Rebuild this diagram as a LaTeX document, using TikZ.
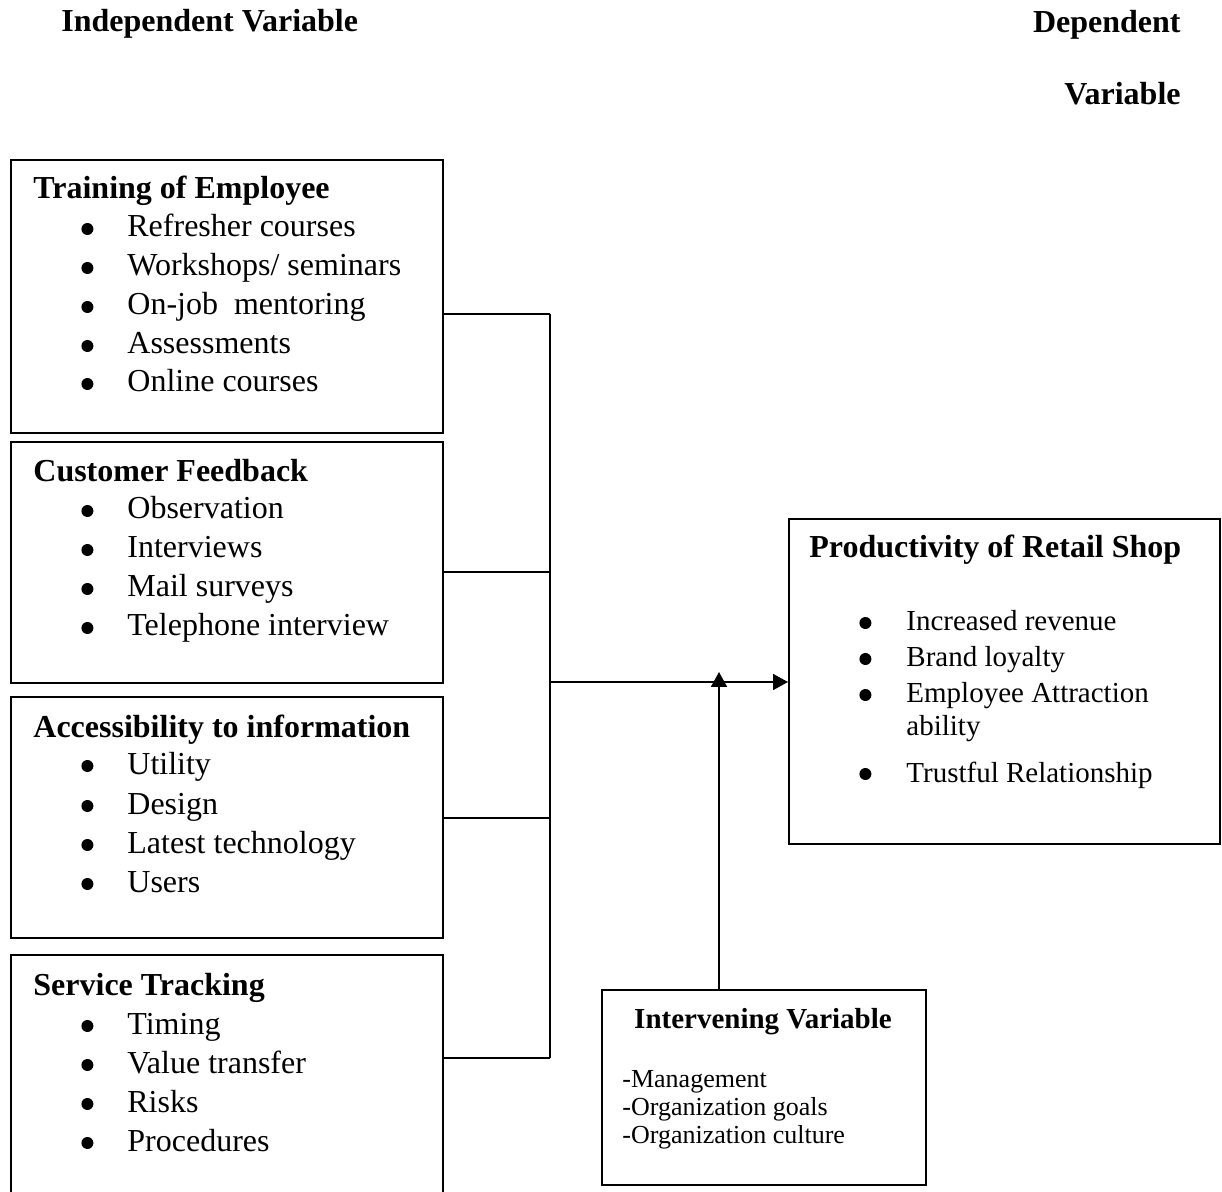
\documentclass[tikz,border=0pt]{standalone}
\usepackage{fontspec}
\setmainfont{Liberation Serif}
\usetikzlibrary{arrows.meta}
\tikzset{
  box/.style={draw, line width=1pt, inner sep=0pt, anchor=north west},
  ttl/.style={inner sep=0pt, anchor=base west, font=\fontsize{16}{19}\selectfont\bfseries},
  itl/.style={inner sep=0pt, anchor=base west, font=\fontsize{16}{19}\selectfont},
  itr/.style={inner sep=0pt, anchor=base west, font=\fontsize{14.5}{17}\selectfont},
  itm/.style={inner sep=0pt, anchor=base west, font=\fontsize{13}{15}\selectfont},
  conn/.style={line width=0.9pt},
  arr/.style={line width=0.9pt, -{Triangle[length=7.5pt,width=8pt]}}
}
\newsavebox\bulletbox
\sbox\bulletbox{\tikz\fill (0,0) circle (3pt);}
\newcommand\bl[1]{\llap{\raisebox{1pt}{\usebox\bulletbox}\hspace{#1}}}
\begin{document}
\begin{tikzpicture}[x=0.5pt,y=-0.5pt]
\useasboundingbox (0,0) rectangle (1222,1192);
\clip (0,0) rectangle (1222,1192);
% headers
\node[ttl] (hind) at (61,32) {Independent Variable};
\node[ttl, anchor=base east] (hdep) at (1181,33) {Dependent};
\node[ttl, anchor=base east] (hvar) at (1181,105) {Variable};
% left boxes
\node[box, minimum width=216pt, minimum height=136.5pt] (b1) at (10,159) {};
\node[box, minimum width=216pt, minimum height=120.5pt] (b2) at (10,441) {};
\node[box, minimum width=216pt, minimum height=120.5pt] (b3) at (10,696) {};
\node[box, minimum width=216pt, minimum height=125pt] (b4) at (10,954) {};
% box 1
\node[ttl] (t1) at (33,199) {Training of Employee};
\node[itl] (i11) at (127,237) {\bl{17pt}Refresher courses};
\node[itl] (i12) at (127,276) {\bl{17pt}Workshops/ seminars};
\node[itl] (i13) at (127,315) {\bl{17pt}On-job\ \ mentoring};
\node[itl] (i14) at (127,354) {\bl{17pt}Assessments};
\node[itl] (i15) at (127,392) {\bl{17pt}Online courses};
% box 2
\node[ttl] (t2) at (33,482) {Customer Feedback};
\node[itl] (i21) at (127,519) {\bl{17pt}Observation};
\node[itl] (i22) at (127,558) {\bl{17pt}Interviews};
\node[itl] (i23) at (127,597) {\bl{17pt}Mail surveys};
\node[itl] (i24) at (127,636) {\bl{17pt}Telephone interview};
% box 3
\node[ttl] (t3) at (33,737) {Accessibility to information};
\node[itl] (i31) at (127,774) {\bl{17pt}Utility};
\node[itl] (i32) at (127,814) {\bl{17pt}Design};
\node[itl] (i33) at (127,853) {\bl{17pt}Latest technology};
\node[itl] (i34) at (127,892) {\bl{17pt}Users};
% box 4
\node[ttl] (t4) at (33,995) {Service Tracking};
\node[itl] (i41) at (127,1034) {\bl{17pt}Timing};
\node[itl] (i42) at (127,1073) {\bl{17pt}Value transfer};
\node[itl] (i43) at (127,1112) {\bl{17pt}Risks};
\node[itl] (i44) at (127,1151) {\bl{17pt}Procedures};
% dependent box
\node[box, minimum width=215.5pt, minimum height=162.5pt] (dep) at (788,518) {};
\node[ttl] (td) at (809,558) {Productivity of Retail Shop};
\node[itr] (d1) at (906,631) {\bl{17.5pt}Increased revenue};
\node[itr] (d2) at (906,667) {\bl{17.5pt}Brand loyalty};
\node[itr] (d3) at (906,703) {\bl{17.5pt}Employee Attraction};
\node[itr] (d3b) at (906,735) {ability};
\node[itr] (d4) at (906,782) {\bl{17.5pt}Trustful Relationship};
% intervening box
\node[box, minimum width=162pt, minimum height=97.5pt] (int) at (601,989) {};
\node[ttl, anchor=base, font=\fontsize{14.5}{17}\selectfont\bfseries] (ti) at (763,1028) {Intervening Variable};
\node[itm] (m1) at (622,1087) {-Management};
\node[itm] (m2) at (622,1115) {-Organization goals};
\node[itm] (m3) at (622,1143) {-Organization culture};
% connectors
\coordinate (j1) at (550,314);
\coordinate (j2) at (550,572);
\coordinate (j3) at (550,818);
\coordinate (j4) at (550,1058);
\coordinate (jm) at (550,682);
\coordinate (tip) at (719,672);
\draw[conn] (b1.east |- j1) -- (j1);
\draw[conn] (b2.east |- j2) -- (j2);
\draw[conn] (b3.east |- j3) -- (j3);
\draw[conn] (b4.east |- j4) -- (j4);
\draw[conn] (j1) -- (j4);
\draw[arr] (jm) -- (dep.west |- jm);
\draw[arr] (int.north -| tip) -- (tip);
\end{tikzpicture}
\end{document}
